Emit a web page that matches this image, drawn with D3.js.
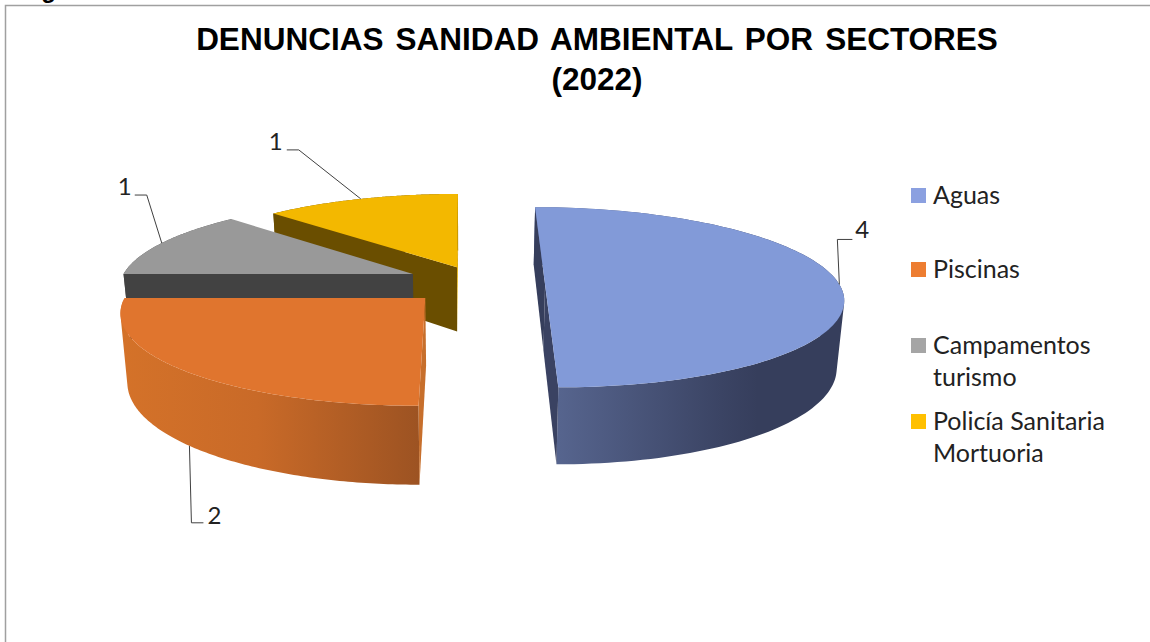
<!DOCTYPE html>
<html>
<head>
<meta charset="utf-8">
<style>
  html, body { margin: 0; padding: 0; background: #fff; overflow: hidden; }
  .title { font-family: "Liberation Sans", Arial, sans-serif; font-weight: bold; font-size: 31.5px; word-spacing: 3.4px; text-anchor: middle; fill: #000; }
  .legend { font-family: Lato, sans-serif; font-size: 25px; fill: #222; }
  .value { font-family: Lato, sans-serif; font-size: 24px; fill: #222; }
</style>
<script src="https://cdn.jsdelivr.net/npm/d3@7"></script>
</head>
<body>
<div id="chart"></div>
<script>
var categories = ["Aguas", "Piscinas", "Campamentos turismo", "Policía Sanitaria Mortuoria"];
var values = [4, 2, 1, 1];
var legendLines = [["Aguas"], ["Piscinas"], ["Campamentos", "turismo"], ["Policía Sanitaria", "Mortuoria"]];
var titleLines = ["DENUNCIAS SANIDAD AMBIENTAL POR SECTORES", "(2022)"];

var svgWidth = 1150;
var svgHeight = 642;

// colours for each slice
var legendColors = ["#8ba0e0", "#ed7d31", "#a5a5a5", "#ffc000"];
var topColors = ["#829ad8", "#e0752e", "#999999", "#f3b800"];
var startFaceColors = ["#363e5c", "#c76f2c", "#424242", "#6a4e00"];
var endFaceColors = ["#3a4262", "#c76f2c", "#424242", "#e0aa00"];
var rimStops = [
  [["0%", "#5a6994"], ["60%", "#3b4464"], ["72%", "#363e5c"], ["100%", "#363e5c"]],
  [["0%", "#d47229"], ["45%", "#c96a28"], ["100%", "#9b5222"]],
  [["0%", "#555"], ["100%", "#444"]],
  [["0%", "#6a4e00"], ["100%", "#6a4e00"]]
];

// how far each slice is pulled out of the pie, in units of the pie radius [sideways, depth]
var explode = [[0.272, 0], [-0.132, -0.15], [-0.18, 0.12], [-0.028, 0.2]];

// perspective camera fitted to the slice edges
var vanishX = 465, vanishY = -337;
var focalX = 2072, focalY = 4375, pieDepth = 7.04;
var wallHeight = 465, wallTaper = 0.98;

var svg = d3.select("#chart")
  .append("svg")
  .attr("width", svgWidth)
  .attr("height", svgHeight);

function topPoint(u, z) {
  return [vanishX + focalX * u / z, vanishY + focalY / z];
}
function bottomPoint(u, z) {
  var p = topPoint(u, z);
  return [vanishX + (p[0] - vanishX) * wallTaper, p[1] + wallHeight / z];
}

var pie = d3.pie().sort(null).value(d => d);
var slices = pie(values);

var line = d3.line();
var defs = svg.append("defs");
var chartGroup = svg.append("g");

// chart frame, open at the bottom like the cropped original
svg.append("path")
  .attr("d", line([[5.5, svgHeight], [5.5, 5.5], [svgWidth, 5.5]]))
  .attr("fill", "none")
  .attr("stroke", "#a0a0a0")
  .attr("stroke-width", 1.5);

// caption of the page, only its descender shows above the frame
svg.append("text")
  .attr("x", 20)
  .attr("y", -2)
  .attr("font-family", "Liberation Sans")
  .attr("font-weight", "bold")
  .attr("font-size", 24)
  .text("Figura");

svg.selectAll(".title")
  .data(titleLines)
  .enter()
  .append("text")
  .attr("class", "title")
  .attr("x", 597)
  .attr("y", (d, i) => 50 + i * 40)
  .text(d => d);

function coords(i, t, r) {
  return [explode[i][0] + r * Math.sin(t), pieDepth + explode[i][1] + r * Math.cos(t)];
}

// back slices first so the front ones cover them
var drawOrder = [3, 2, 0, 1];

drawOrder.forEach(function(i) {
  var s = slices[i];
  var g = chartGroup.append("g");
  var steps = d3.range(0, 121).map(k => s.startAngle + (s.endAngle - s.startAngle) * k / 120);
  var topArc = steps.map(t => topPoint.apply(null, coords(i, t, 1)));
  var bottomArc = steps.map(t => bottomPoint.apply(null, coords(i, t, 1)));
  var apex = coords(i, 0, 0);
  var topApex = topPoint(apex[0], apex[1]);
  var bottomApex = bottomPoint(apex[0], apex[1]);

  var xExtent = d3.extent(topArc.concat([topApex]), d => d[0]);
  var gradient = defs.append("linearGradient")
    .attr("id", "rim" + i)
    .attr("gradientUnits", "userSpaceOnUse")
    .attr("x1", xExtent[0]).attr("x2", xExtent[1])
    .attr("y1", 0).attr("y2", 0);
  gradient.selectAll("stop")
    .data(rimStops[i])
    .enter()
    .append("stop")
    .attr("offset", d => d[0])
    .attr("stop-color", d => d[1]);

  // curved outer wall, built from small quads so the silhouette stays filled
  var rimPath = d3.range(0, 120).map(function(k) {
    var quad = [topArc[k], topArc[k + 1], bottomArc[k + 1], bottomArc[k]];
    if (d3.polygonArea(quad) < 0) quad.reverse();
    return line(quad) + "Z";
  }).join("");
  g.append("path")
    .attr("d", rimPath)
    .attr("fill", "url(#rim" + i + ")");

  // flat cut faces, only those turned towards the camera
  var startFace = [topApex, topArc[0], bottomArc[0], bottomApex];
  var endFace = [topApex, topArc[120], bottomArc[120], bottomApex];
  if (d3.polygonArea(startFace) > 0) {
    g.append("path").attr("d", line(startFace) + "Z").attr("fill", startFaceColors[i]);
  }
  if (d3.polygonArea(endFace) < 0) {
    g.append("path").attr("d", line(endFace) + "Z").attr("fill", endFaceColors[i]);
  }

  // top face
  g.append("path")
    .attr("d", line([topApex].concat(topArc)) + "Z")
    .attr("fill", topColors[i]);
});

// leader lines, anchored on the rim at the middle of each slice
// [elbow dx, elbow dy, tail length, label gap, label dy]
var labelBends = [[-2, -45, 15, 3, -1], [2, 77, 12, 4, 1], [-15, -48, -12, -3, 0], [-62, -49, -12, -4, 0]];
var anchorOnBottom = [false, true, false, false];

slices.forEach(function(s, i) {
  var mid = (s.startAngle + s.endAngle) / 2;
  var c = coords(i, mid, 1);
  var p = anchorOnBottom[i] ? bottomPoint(c[0], c[1]) : topPoint(c[0], c[1]);
  var bend = labelBends[i];
  var elbow = [p[0] + bend[0], p[1] + bend[1]];
  var end = [elbow[0] + bend[2], elbow[1]];
  chartGroup.append("path")
    .attr("d", line([p, elbow, end]))
    .attr("fill", "none")
    .attr("stroke", "#404040")
    .attr("stroke-width", 1);
  chartGroup.append("text")
    .attr("class", "value")
    .attr("x", end[0] + bend[3])
    .attr("y", end[1] + bend[4])
    .attr("text-anchor", bend[2] > 0 ? "start" : "end")
    .text(values[i]);
});

// legend
var legendY = d3.scaleOrdinal().domain(categories).range([188, 262, 338, 414]);
var legend = svg.selectAll(".legendItem")
  .data(categories)
  .enter()
  .append("g")
  .attr("class", "legendItem")
  .attr("transform", d => `translate(911, ${legendY(d)})`);

legend.append("rect")
  .attr("width", 15)
  .attr("height", 15)
  .attr("fill", (d, i) => legendColors[i]);

legend.each(function(d, i) {
  d3.select(this).selectAll("text")
    .data(legendLines[i])
    .enter()
    .append("text")
    .attr("class", "legend")
    .attr("x", 22)
    .attr("y", (l, k) => 16 + k * 32)
    .text(l => l);
});
</script>
</body>
</html>
